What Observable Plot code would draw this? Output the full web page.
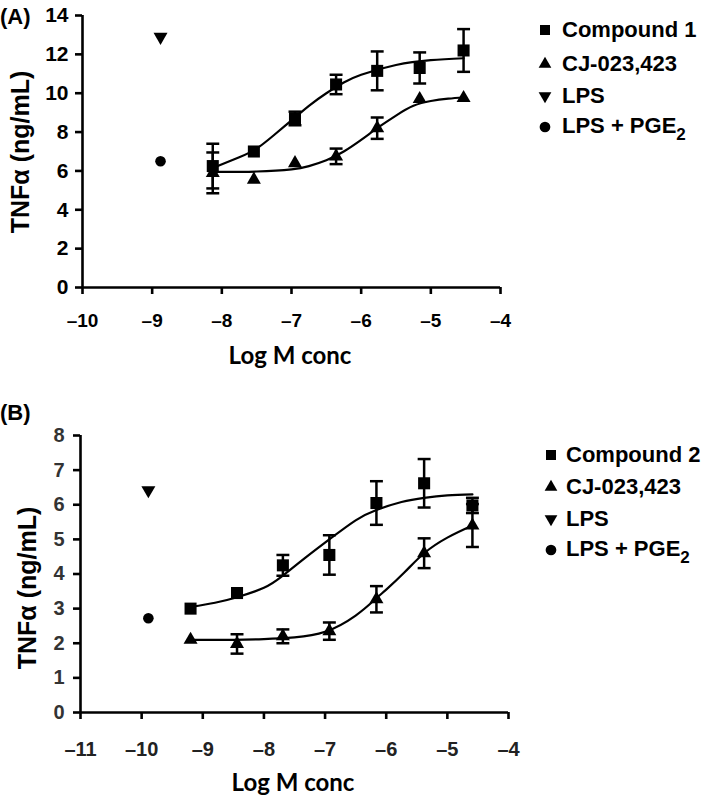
<!DOCTYPE html>
<html>
<head>
<meta charset="utf-8">
<script src="https://cdn.jsdelivr.net/npm/d3@7"></script>
<script src="https://cdn.jsdelivr.net/npm/@observablehq/plot@0.6"></script>
<style>
  html, body { margin: 0; padding: 0; background: #fff; }
  #wrap { position: relative; width: 709px; height: 798px; overflow: hidden; font-family: "Liberation Sans", Arial, sans-serif; }
  .abs { position: absolute; white-space: nowrap; color: #000; }
  .panel-label { font: bold 22px "Liberation Sans", Arial, sans-serif; line-height: 22px; }
  .ytitle { font: bold 25px "Liberation Sans", Arial, sans-serif; line-height: 26px; transform: translate(-50%, -50%) rotate(-90deg); }
  .xtitle { font: bold 24px Lato, "Open Sans", sans-serif; line-height: 26px; transform: translate(-50%, -50%); }
  .legend-row { position: absolute; white-space: nowrap; font: bold 22px "Liberation Sans", Arial, sans-serif; line-height: 26px; transform: translateY(-50%); }
  .legend-row .sub { font-size: 17px; position: relative; top: 7px; }
  .plotbox { position: absolute; }
</style>
</head>
<body>
<div id="wrap"></div>
<script>
// ---------- Panel A data ----------
const xDomainA = [-10, -4];
const yDomainA = [0, 14];
const xTicksA = [-10, -9, -8, -7, -6, -5, -4];
const yTicksA = [0, 2, 4, 6, 8, 10, 12, 14];
const concA = [-8.13, -7.54, -6.95, -6.36, -5.77, -5.16, -4.53];
const compound1 = [6.25, 7.0, 8.7, 10.45, 11.15, 11.3, 12.2];
const compound1Err = [1.15, 0, 0.35, 0.5, 1.0, 0.8, 1.1];
const cjA = [5.9, 5.55, 6.4, 6.75, 8.2, 9.7, 9.75];
const cjAErr = [1.05, 0, 0, 0.4, 0.55, 0, 0];
const lpsA = {x: -8.88, y: 12.9};
const lpsPgeA = {x: -8.88, y: 6.5};
const fit1X = [-8.13, -7.75, -7.5, -7.25, -7.0, -6.75, -6.5, -6.25, -6.0, -5.5, -5.0, -4.53];
const fit1Y = [6.15, 6.7, 7.15, 7.85, 8.6, 9.35, 10.0, 10.55, 10.95, 11.45, 11.7, 11.8];
const fitCjAX = [-8.13, -7.5, -7.0, -6.75, -6.5, -6.25, -6.0, -5.75, -5.5, -5.25, -5.0, -4.75, -4.53];
const fitCjAY = [5.95, 5.97, 6.08, 6.25, 6.55, 7.0, 7.6, 8.25, 8.85, 9.35, 9.6, 9.72, 9.78];
const legendA = ["Compound 1", "CJ-023,423", "LPS", "LPS + PGE<span class=\"sub\">2</span>"];

// ---------- Panel B data ----------
const xDomainB = [-11, -4];
const yDomainB = [0, 8];
const xTicksB = [-11, -10, -9, -8, -7, -6, -5, -4];
const yTicksB = [0, 1, 2, 3, 4, 5, 6, 7, 8];
const concB = [-9.2, -8.44, -7.69, -6.93, -6.16, -5.38, -4.59];
const compound2 = [3.0, 3.45, 4.25, 4.55, 6.05, 6.62, 5.98];
const compound2Err = [0, 0, 0.3, 0.57, 0.63, 0.7, 0.22];
const cjB = [2.1, 1.98, 2.2, 2.35, 3.27, 4.6, 5.4];
const cjBErr = [0, 0.28, 0.2, 0.25, 0.38, 0.43, 0.62];
const lpsB = {x: -9.89, y: 6.42};
const lpsPgeB = {x: -9.89, y: 2.72};
const fit2X = [-9.2, -8.8, -8.44, -8.0, -7.69, -7.3, -6.93, -6.5, -6.16, -5.75, -5.38, -5.0, -4.59];
const fit2Y = [3.05, 3.17, 3.33, 3.6, 3.95, 4.5, 5.0, 5.55, 5.85, 6.08, 6.2, 6.27, 6.3];
const fitCjBX = [-9.2, -8.5, -8.0, -7.5, -7.0, -6.5, -6.16, -6.0, -5.7, -5.38, -5.0, -4.59];
const fitCjBY = [2.1, 2.1, 2.12, 2.17, 2.33, 2.8, 3.3, 3.55, 4.05, 4.6, 5.05, 5.4];
const legendB = ["Compound 2", "CJ-023,423", "LPS", "LPS + PGE<span class=\"sub\">2</span>"];

// ---------- helpers ----------
const zip = (xs, ys, es) => xs.map((x, i) => ({x, y: ys[i], e: es ? es[i] : 0}));
const pts = (xs, ys) => xs.map((x, i) => ({x, y: ys[i]}));
const capSymbol = {
  draw(context, size) {
    const w = Math.sqrt(size) / 2;
    context.moveTo(-w, 0);
    context.lineTo(w, 0);
  }
};
const fmt = d => d < 0 ? "\u2013" + Math.abs(d) : String(d);

function panel(cfg) {
  const errs = [...cfg.sq, ...cfg.tri].filter(d => d.e > 0);
  const svg = Plot.plot({
    width: cfg.width,
    height: cfg.height,
    marginLeft: cfg.ml,
    marginRight: cfg.mr,
    marginTop: cfg.mt,
    marginBottom: cfg.mb,
    style: {background: "transparent", overflow: "visible"},
    x: {domain: cfg.xDomain, ticks: cfg.xTicks, label: null},
    y: {domain: cfg.yDomain, ticks: cfg.yTicks, label: null},
    marks: [
      Plot.ruleY([cfg.yDomain[0]], {stroke: "#000", strokeWidth: 2.6}),
      Plot.ruleX([cfg.xDomain[0]], {stroke: "#000", strokeWidth: 2.6}),
      Plot.axisX({ticks: cfg.xTicks, tickSize: 7, tickPadding: cfg.xPad, tickFormat: fmt, strokeWidth: 2.6, label: null}),
      Plot.axisY({ticks: cfg.yTicks, tickSize: 7, tickPadding: cfg.yPad, tickFormat: d => String(d), strokeWidth: 2.6, label: null}),
      Plot.line(cfg.fitSq, {x: "x", y: "y", curve: "natural", stroke: "#000", strokeWidth: 2.2}),
      Plot.line(cfg.fitTri, {x: "x", y: "y", curve: "natural", stroke: "#000", strokeWidth: 2.2}),
      Plot.ruleX(errs, {x: "x", y1: d => d.y - d.e, y2: d => d.y + d.e, stroke: "#000", strokeWidth: 2.5}),
      Plot.dot(errs, {x: "x", y: d => d.y + d.e, symbol: capSymbol, r: 7.3, stroke: "#000", strokeWidth: 2.5, fill: "none"}),
      Plot.dot(errs, {x: "x", y: d => d.y - d.e, symbol: capSymbol, r: 7.3, stroke: "#000", strokeWidth: 2.5, fill: "none"}),
      Plot.dot(cfg.sq, {x: "x", y: "y", symbol: "square", r: 6.8, fill: "#000", stroke: null}),
      Plot.dot(cfg.tri, {x: "x", y: "y", symbol: "triangle", r: 5.2, fill: "#000", stroke: null}),
      Plot.dot([cfg.lps], {x: "x", y: "y", symbol: "triangle", rotate: 180, r: 5.2, fill: "#000", stroke: null}),
      Plot.dot([cfg.pge], {x: "x", y: "y", symbol: "circle", r: 5.3, fill: "#000", stroke: null})
    ]
  });
  svg.querySelectorAll("text").forEach(t => {
    const xg = t.closest('[aria-label*="x-axis"]');
    const yg = t.closest('[aria-label*="y-axis"]');
    const c = xg ? {fam: cfg.xFamily, size: cfg.xFont, fill: cfg.xFill}
            : yg ? {fam: cfg.yFamily, size: cfg.yFont, fill: cfg.yFill} : null;
    if (!c) return;
    t.style.fontFamily = c.fam;
    t.style.fontSize = c.size + "px";
    t.style.fontWeight = "bold";
    t.style.fill = c.fill;
  });
  return svg;
}

const wrap = document.getElementById("wrap");
function add(html, cls, css) {
  const d = document.createElement("div");
  d.className = cls;
  d.innerHTML = html;
  Object.assign(d.style, css);
  wrap.appendChild(d);
  return d;
}

function legend(labels, x0, textX, ys) {
  const shapes = [
    {type: d3.symbolSquare, size: 100, rot: 0},
    {type: d3.symbolTriangle, size: 70, rot: 0},
    {type: d3.symbolTriangle, size: 70, rot: 180},
    {type: d3.symbolCircle, size: 90, rot: 0}
  ];
  labels.forEach((lab, i) => {
    const p = d3.symbol(shapes[i].type, shapes[i].size)();
    const svg = `<svg width="16" height="16" style="position:absolute;left:${x0 - 8}px;top:${ys[i] - 8}px;overflow:visible"><path d="${p}" transform="translate(8,8) rotate(${shapes[i].rot})" fill="#000"/></svg>`;
    add(svg, "abs", {left: "0px", top: "0px"});
    add(lab, "legend-row", {left: textX + "px", top: ys[i] + "px"});
  });
}

const narrow = "'Liberation Sans Narrow', 'Arial Narrow', 'Liberation Sans', Arial, sans-serif";
const arial = "'Liberation Sans', Arial, sans-serif";

// Panel A
const pA = panel({
  width: 520, height: 340, ml: 82, mr: 20, mt: 15, mb: 53,
  xDomain: xDomainA, yDomain: yDomainA, xTicks: xTicksA, yTicks: yTicksA,
  xPad: 19, yPad: 7, xFont: 19, yFont: 21, xFamily: narrow, yFamily: arial, xFill: "#000", yFill: "#000",
  sq: zip(concA, compound1, compound1Err), tri: zip(concA, cjA, cjAErr),
  fitSq: pts(fit1X, fit1Y), fitTri: pts(fitCjAX, fitCjAY),
  lps: lpsA, pge: lpsPgeA
});
const boxA = add("", "plotbox", {left: "0px", top: "0px"});
boxA.appendChild(pA);

// Panel B
const pB = panel({
  width: 528, height: 347, ml: 80, mr: 20, mt: 15, mb: 55,
  xDomain: xDomainB, yDomain: yDomainB, xTicks: xTicksB, yTicks: yTicksB,
  xPad: 22, yPad: 9, xFont: 20, yFont: 20, xFamily: narrow, yFamily: narrow, xFill: "#222", yFill: "#333",
  sq: zip(concB, compound2, compound2Err), tri: zip(concB, cjB, cjBErr),
  fitSq: pts(fit2X, fit2Y), fitTri: pts(fitCjBX, fitCjBY),
  lps: lpsB, pge: lpsPgeB
});
const boxB = add("", "plotbox", {left: "0px", top: "420px"});
boxB.appendChild(pB);

// Labels and titles
add("(A)", "abs panel-label", {left: "0px", top: "6px"});
add("(B)", "abs panel-label", {left: "0px", top: "402px"});
add("TNF\u03b1 (ng/mL)", "abs ytitle", {left: "20px", top: "152px"});
add("TNF\u03b1 (ng/mL)", "abs ytitle", {left: "27px", top: "588px"});
add("Log M conc", "abs xtitle", {left: "290px", top: "355px"});
add("Log M conc", "abs xtitle", {left: "293px", top: "782px"});

legend(legendA, 545, 562, [30, 64, 96, 127]);
legend(legendB, 551, 566, [455, 487, 519, 550]);
</script>
</body>
</html>
